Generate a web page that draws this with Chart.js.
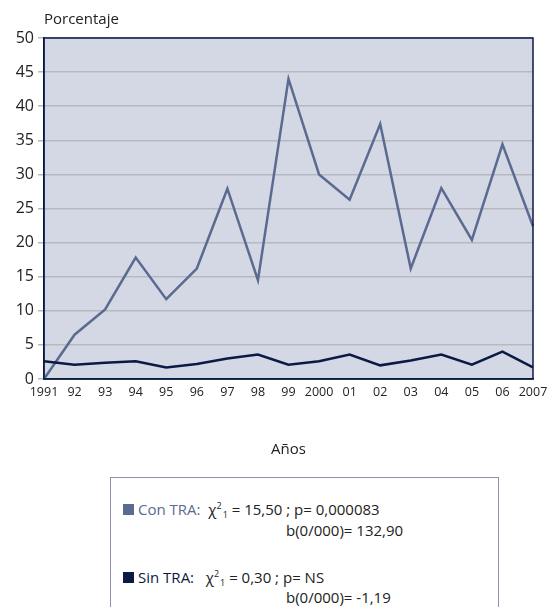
<!DOCTYPE html>
<html>
<head>
<meta charset="utf-8">
<script src="https://cdn.jsdelivr.net/npm/chart.js@4"></script>
<style>
  body { margin: 0; background: #fff; font-family: "Open Sans", sans-serif; }
  #wrap { position: relative; width: 552px; height: 607px; }
  #c { position: absolute; left: 0; top: 0; }
  .leg { position: absolute; left: 110px; top: 477px; width: 387px; height: 140px;
         border: 1px solid #8a93ad; border-bottom: none; color: #222; font-size: 15px; }
  .row { position: absolute; left: 12px; white-space: nowrap; }
  .sq { display: inline-block; width: 11px; height: 11px; margin-right: 4px; }
  .b { position: absolute; white-space: nowrap; }
  .sp { font-size: 9px; position: relative; top: -6px; }
  .sb { font-size: 9px; position: relative; top: 3px; margin-left: 1px; }
</style>
</head>
<body>
<div id="wrap">
<canvas id="c" width="552" height="463"></canvas>
<div class="leg">
  <div class="row" style="top:21px"><span class="sq" style="background:#5b6a91"></span><span style="color:#5b6a91">Con TRA:</span>&nbsp;&nbsp;χ<span class="sp">2</span><span class="sb">1</span> = 15,50 ; p= 0,000083</div>
  <div class="b" style="left:175px;top:42px">b(0/000)= 132,90</div>
  <div class="row" style="top:89px"><span class="sq" style="background:#0a1a44"></span><span style="color:#0a1a44">Sin TRA:</span>&nbsp;&nbsp;&nbsp;χ<span class="sp">2</span><span class="sb">1</span> = 0,30 ; p= NS</div>
  <div class="b" style="left:175px;top:109px">b(0/000)= -1,19</div>
</div>
</div>
<script>
// datos
years = ['1991','92','93','94','95','96','97','98','99','2000','01','02','03','04','05','06','2007']
conTRA = [0, 6.5, 10.2, 17.8, 11.7, 16.2, 27.9, 14.5, 44.0, 30.0, 26.3, 37.4, 16.2, 28.0, 20.4, 34.4, 22.4]
sinTRA = [2.6, 2.1, 2.4, 2.6, 1.7, 2.2, 3.0, 3.6, 2.1, 2.6, 3.6, 2.0, 2.7, 3.6, 2.1, 4.0, 1.7]
yTicks = [0, 5, 10, 15, 20, 25, 30, 35, 40, 45, 50]

plotBg = {
  id: 'plotBg',
  beforeDraw(chart) {
    var a = chart.chartArea, ctx = chart.ctx;
    ctx.save();
    ctx.fillStyle = '#d4d7e4';
    ctx.fillRect(a.left, a.top, a.right - a.left, a.bottom - a.top);
    ctx.restore();
  },
  afterDraw(chart) {
    var a = chart.chartArea, ctx = chart.ctx;
    ctx.save();
    ctx.strokeStyle = '#0a1a44';
    ctx.lineWidth = 1.5;
    ctx.strokeRect(a.left, a.top, a.right - a.left, a.bottom - a.top);
    ctx.fillStyle = '#222';
    ctx.font = '15px "Open Sans"';
    ctx.textBaseline = 'alphabetic';
    ctx.fillText('Porcentaje', a.left, a.top - 14);
    ctx.restore();
  }
};

chartdata = {
  labels: years,
  datasets: [{
    label: 'Sin TRA',
    data: sinTRA,
    borderColor: '#0a1a44',
    borderWidth: 2.5,
    pointRadius: 0,
    tension: 0
  }, {
    label: 'Con TRA',
    data: conTRA,
    borderColor: '#5b6a91',
    borderWidth: 2.5,
    pointRadius: 0,
    tension: 0
  }]
};

config = {
  type: 'line',
  data: chartdata,
  plugins: [plotBg],
  options: {
    responsive: false,
    animation: false,
    layout: { padding: { top: 38, right: 19, left: 0, bottom: 0 } },
    plugins: { legend: { display: false }, tooltip: { enabled: false } },
    scales: {
      x: {
        offset: false,
        grid: { display: false, drawTicks: true, tickLength: 5, color: '#0a1a44' },
        border: { color: '#0a1a44', width: 1.5 },
        ticks: { color: '#222', font: { family: 'Open Sans', size: 12.5 }, maxRotation: 0, autoSkip: false, padding: 1 },
        title: { display: true, text: 'Años', color: '#222', font: { family: 'Open Sans', size: 15 }, padding: { top: 40 } }
      },
      y: {
        min: 0, max: 50,
        afterBuildTicks: s => { s.ticks = yTicks.map(v => ({ value: v })); },
        afterFit: s => { s.width = 44; },
        grid: { color: '#b8b9c0', lineWidth: 1.5, tickLength: 6, drawTicks: true },
        border: { color: '#0a1a44', width: 1.5 },
        ticks: { color: '#222', font: { family: 'Open Sans', size: 16 }, padding: 4 }
      }
    }
  }
};

var myChart = new Chart(document.getElementById('c'), config);
</script>
</body>
</html>
